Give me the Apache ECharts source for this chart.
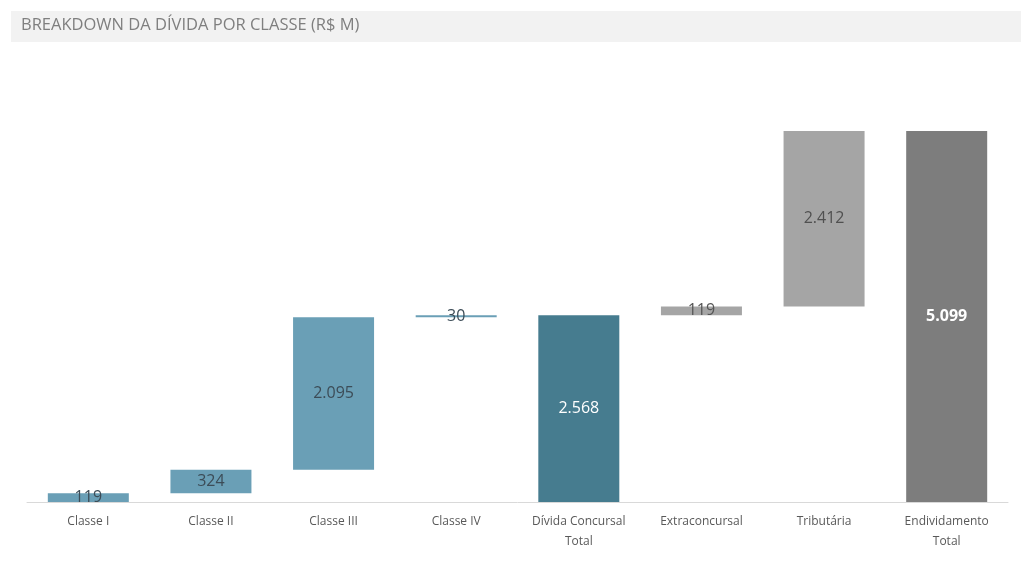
<!DOCTYPE html>
<html>
<head>
<meta charset="utf-8">
<script src="https://cdn.jsdelivr.net/npm/echarts@6/dist/echarts.min.js"></script>
<style>
  html, body { margin: 0; padding: 0; background: #ffffff; }
  #chart { width: 1032px; height: 567px; }
</style>
</head>
<body>
<div id="chart"></div>
<script>
// Debt breakdown by class (R$ million), drawn as a waterfall
const categories = [
  'Classe I', 'Classe II', 'Classe III', 'Classe IV',
  'Dívida Concursal\nTotal', 'Extraconcursal', 'Tributária', 'Endividamento\nTotal'
];
const values = [119, 324, 2095, 30, 2568, 119, 2412, 5099];
// true where the bar is a subtotal/total standing on the axis
const isTotal = [false, false, false, false, true, false, false, true];
const barColors = ['#6a9fb6', '#6a9fb6', '#6a9fb6', '#6a9fb6', '#467c8f', '#a5a5a5', '#a5a5a5', '#7d7d7d'];
const labelColors = ['#3c4c57', '#3c4c57', '#3c4c57', '#3c4c57', '#ffffff', '#555555', '#505050', '#ffffff'];

// invisible offsets so each step floats on the running total
const bases = [];
let running = 0;
values.forEach((v, i) => {
  if (isTotal[i]) {
    bases.push(0);
    running = v;
  } else {
    bases.push(running);
    running += v;
  }
});

const fmt = v => String(v).replace(/\B(?=(\d{3})+(?!\d))/g, '.');

const chart = echarts.init(document.getElementById('chart'));
chart.setOption({
  animation: false,
  backgroundColor: '#ffffff',
  graphic: [
    { type: 'rect', shape: { x: 11, y: 11, width: 1010, height: 31 }, style: { fill: '#f2f2f2' }, z: 0 },
    { type: 'text', left: 21, top: 17,
      style: { text: 'BREAKDOWN DA DÍVIDA POR CLASSE (R$ M)', fill: '#7f7f7f',
               font: '16.5px "Open Sans", sans-serif' }, z: 1 }
  ],
  grid: { left: 27, right: 24, top: 131, bottom: 65, containLabel: false },
  xAxis: {
    type: 'category',
    data: categories,
    axisTick: { show: false },
    axisLine: { show: true, lineStyle: { color: '#d9d9d9', width: 1 } },
    axisLabel: { color: '#595959', fontSize: 12, fontFamily: 'Open Sans', margin: 10, lineHeight: 20, interval: 0 }
  },
  yAxis: {
    type: 'value', min: 0, max: 5099, show: false, splitLine: { show: false }
  },
  series: [
    {
      type: 'bar', stack: 'w', barWidth: 81, silent: true,
      itemStyle: { color: 'transparent' },
      data: bases
    },
    {
      type: 'bar', stack: 'w', barWidth: 81,
      data: values.map((v, i) => ({
        value: v,
        itemStyle: { color: barColors[i] },
        label: {
          color: labelColors[i],
          fontWeight: i === 7 ? 'bold' : 'normal'
        }
      })),
      label: {
        show: true, position: 'inside', fontSize: 16, fontFamily: 'Open Sans',
        formatter: p => fmt(p.value)
      }
    }
  ]
});
</script>
</body>
</html>
